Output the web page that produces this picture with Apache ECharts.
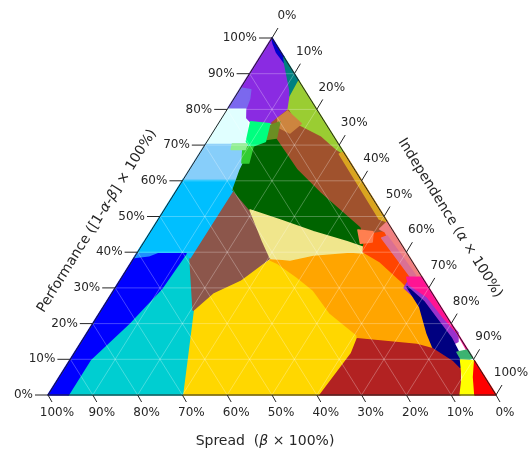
<!DOCTYPE html>
<html>
<head>
<meta charset="utf-8">
<script src="https://cdn.jsdelivr.net/npm/echarts@6/dist/echarts.min.js"></script>
<style>
  html, body { margin: 0; background: #fff; }
  #chart { width: 529px; height: 455px; }
</style>
</head>
<body>
<div id="chart"></div>
<script>
// region outlines, vertices as [performance %, independence %]
// (spread = 100 - performance - independence)
const firebrick = [[0, 60.3], [11.8, 61.5], [16.2, 60.9], [14.6, 75.1], [13.4, 79.2], [9.8, 85.5], [7.8, 88.1], [0, 92]];
const gold = [[0, 30], [0, 60.3], [11.8, 61.5], [16.8, 60.6], [23, 51.4], [29.4, 44.5], [33, 39.1], [37, 32.6], [37.8, 30.7], [32.2, 26.8], [28.6, 22.5], [23.8, 20.5], [9.8, 26.1]];
const orange = [[37.8, 30.7], [37.8, 35.1], [39.2, 39.6], [40.1, 47.4], [40.1, 50.3], [37.3, 55.5], [32.2, 62.5], [30.3, 65], [24.6, 70.7], [17.4, 75.9], [13.4, 79.2], [14.6, 75.1], [16.2, 60.9], [16.8, 60.6], [23, 51.4], [29.4, 44.5], [33, 39.1], [37, 32.6]];
const turquoise = [[0, 4.5], [0, 30], [9.8, 26.1], [23.8, 20.5], [38.4, 12.5], [40, 11], [30, 10.5], [20, 8], [10, 4.5]];
const blue = [[0, 0], [0, 4.5], [10, 4.5], [20, 8], [30, 10.5], [40, 11], [40, 0]];
const dodger = [[38.5, 0], [42.5, 0], [42, 3.5], [40, 4.5], [39, 3]];
const brown = [[57.4, 12.6], [51.8, 19.2], [43.4, 26.1], [38.4, 30.4], [32.2, 26.8], [28.6, 22.5], [23.8, 20.5], [38.4, 12.5]];
const deepsky = [[40, 0], [60.5, 0], [60.5, 11.8], [57.4, 12.6], [38.4, 12.5], [40, 11]];
const lightsky = [[60.5, 0], [70.6, 0], [70.6, 9.8], [68.6, 10], [65.8, 11.1], [63, 11.4], [60.5, 11.8]];
const lightcyan = [[70.6, 0], [80.5, 0], [80.5, 4.2], [77.6, 5.6], [74.5, 7.3], [70.6, 9.8]];
const purple = [[100, 0], [86, 0], [82.6, 3.1], [80.5, 4.2], [77.6, 5.6], [76.5, 7], [75.1, 9.2], [76.2, 11.9], [79.8, 13.7], [85.4, 11.3], [92.4, 6.7], [97.5, 1.5]];
const slateblue = [[86, 0], [80.5, 0], [80.5, 4], [83, 3.5], [85.5, 2.5]];
const mediumblue = [[100, 0], [94.7, 5.3], [93, 6.3], [96, 3], [98.5, 1]];
const teal = [[94.7, 5.3], [88, 12], [83.5, 12.3], [85.4, 11.3], [92.4, 6.7], [93, 6.3]];
const yellowgreen = [[88, 12], [66.5, 33.5], [68.6, 29.8], [72.3, 24.6], [75.6, 17.8], [79.8, 13.7], [83.5, 12.3]];
const sienna = [[79.8, 13.7], [75.6, 17.8], [72.3, 24.6], [68.6, 29.8], [66.5, 33.5], [48.5, 51.5], [45.6, 52.2], [45.4, 46.8], [56.6, 32.4], [63, 24.1], [72, 14.7], [76.2, 11.9]];
const goldenrod = [[68, 32], [48.5, 51.5], [49.3, 49.3], [67.5, 31.3]];
const peru = [[79.5, 13.7], [76, 18.5], [73.4, 17.3], [75, 14], [77.5, 12.5]];
const darkgreen = [[70.6, 10.9], [72, 14.7], [63, 24.1], [56.6, 32.4], [46.8, 46.2], [41.2, 50.2], [42.9, 45.3], [45.7, 36.4], [49, 27.3], [51.8, 19.2], [57.4, 12.6], [63, 11.4], [65.8, 11.1]];
const olivedrab = [[75, 11], [76.5, 13.5], [72, 15], [71.5, 12.5]];
const springgreen = [[76.5, 7], [76, 11.5], [71, 13], [69.5, 10.4], [71, 8.8]];
const limegreen = [[69.5, 8.8], [69.5, 11], [65, 12.3], [65, 10.8]];
const lightgreen = [[70.3, 6], [70.3, 9.3], [68.8, 9.6], [68.8, 6.5]];
const khaki = [[51.8, 19.2], [49, 27.3], [45.7, 36.4], [42.9, 45.3], [41.2, 50.2], [39.8, 50.4], [40.1, 47.4], [39.2, 39.6], [37.8, 35.1], [38.4, 30.4], [43.4, 26.1]];
const orangered = [[44.8, 48.4], [45.7, 52.4], [40.6, 57.2], [35, 63.3], [30.8, 67.6], [30.3, 65], [32.2, 62.5], [37.3, 55.5], [40.1, 50.3]];
const coral = [[46.2, 46.1], [45.7, 49.7], [42.9, 50.9], [42.5, 48.5]];
const lightcoral = [[48.5, 51.5], [33, 67], [31.5, 67], [35, 63.3], [40.6, 57.2], [45.7, 52.4], [46.5, 50.8]];
const palevioletred = [[44, 52.5], [33, 64.5], [33.5, 65.3], [44.5, 53.5]];
const darkorchid = [[31.5, 64.5], [27.5, 71.2], [21.8, 77.6], [17.4, 82.8], [15, 84], [14, 83], [20, 77], [26, 70], [30, 64.5]];
const navy = [[30.3, 65], [26, 71], [20.5, 77], [16, 82], [11.2, 86.4], [7.8, 88.1], [9.8, 85.5], [13.4, 79.2], [17.4, 75.9], [24.6, 70.7]];
const deeppink = [[33, 63.6], [33, 67], [10.6, 89.4], [12.6, 87.2], [17.4, 82.6], [21.8, 77.3], [27.5, 70.9], [31, 65]];
const seagreen = [[12, 85.3], [12.6, 87.4], [10.4, 89.6], [9.2, 88]];
const yellow = [[9.8, 87.2], [9.5, 90.5], [5, 92.5], [0, 95.3], [0, 92], [5, 90]];
const red = [[9.5, 90.5], [0, 100], [0, 95.3], [5, 92.5]];

// drawing order, later ones on top
const regionShapes = [firebrick, gold, orange, turquoise, blue, dodger, brown, deepsky, lightsky, lightcyan,
  purple, slateblue, mediumblue, teal, yellowgreen, sienna, goldenrod, peru, darkgreen, olivedrab,
  springgreen, limegreen, lightgreen, khaki, orangered, coral, lightcoral, palevioletred, darkorchid,
  navy, deeppink, seagreen, yellow, red];
const regionColors = ['#B22222', '#FFD700', '#FFA500', '#00CED1', '#0000FF', '#1E90FF', '#8C564B', '#00BFFF', '#87CEFA', '#E0FFFF',
  '#8A2BE2', '#7B68EE', '#0000CD', '#008080', '#9ACD32', '#A0522D', '#DAA520', '#CD853F', '#006400', '#6B8E23',
  '#00FF7F', '#32CD32', '#90EE90', '#F0E68C', '#FF4500', '#FF7F50', '#F08080', '#DB7093', '#9932CC',
  '#000080', '#FF1493', '#3CB371', '#FFFF00', '#FF0000'];

const gridSteps = [10, 20, 30, 40, 50, 60, 70, 80, 90];
const tickValues = [0, 10, 20, 30, 40, 50, 60, 70, 80, 90, 100];

const FONT = 'DejaVu Sans';
const INK = '#262626';

// [performance, independence] -> cartesian in the unit triangle
const toXY = v => [(v[1] + v[0] / 2) / 100, v[0] / 100];

const gridLines = [];
gridSteps.forEach(c => {
  gridLines.push([[c, 0], [c, 100 - c]]);       // constant performance
  gridLines.push([[0, c], [100 - c, c]]);       // constant independence
  gridLines.push([[0, 100 - c], [100 - c, 0]]); // constant spread
});

const chart = echarts.init(document.getElementById('chart'));

function textStyle(text, align, extra) {
  return Object.assign({
    text: text, fill: INK, fontSize: 12, fontFamily: FONT,
    align: align, textAlign: align, verticalAlign: 'middle', textVerticalAlign: 'middle'
  }, extra || {});
}

const italic = { i: { fontStyle: 'italic', fontSize: 14, fontFamily: FONT, fill: INK } };

const option = {
  animation: false,
  grid: { left: 48, right: 33, top: 38, bottom: 60 },
  xAxis: { type: 'value', min: 0, max: 1, show: false },
  yAxis: { type: 'value', min: 0, max: 1, show: false },
  series: [
    {
      type: 'custom',
      clip: false,
      data: regionShapes.map(() => [0, 0]),
      renderItem: (params, api) => {
        const c = regionColors[params.dataIndex];
        const pts = regionShapes[params.dataIndex].map(v => api.coord(toXY(v)));
        return { type: 'polygon', shape: { points: pts }, style: { fill: c, stroke: c, lineWidth: 1.6, lineJoin: 'round' } };
      }
    },
    {
      type: 'custom',
      clip: false,
      data: gridLines.map(() => [0, 0]),
      renderItem: (params, api) => {
        const seg = gridLines[params.dataIndex];
        const a = api.coord(toXY(seg[0]));
        const b = api.coord(toXY(seg[1]));
        return { type: 'line', shape: { x1: a[0], y1: a[1], x2: b[0], y2: b[1] },
          style: { stroke: 'rgba(255,255,255,0.35)', lineWidth: 0.8 } };
      }
    },
    {
      // triangle outline
      type: 'custom',
      clip: false,
      data: [[0, 0]],
      renderItem: (params, api) => {
        const pts = [[100, 0], [0, 0], [0, 100]].map(v => api.coord(toXY(v)));
        return { type: 'polygon', shape: { points: pts }, style: { fill: null, stroke: '#222', lineWidth: 1 } };
      }
    },
    {
      // performance axis (left)
      type: 'custom',
      clip: false,
      data: tickValues.map(() => [0, 0]),
      renderItem: (params, api) => {
        const v = tickValues[params.dataIndex];
        const p = api.coord(toXY([v, 0]));
        return { type: 'group', children: [
          { type: 'line', shape: { x1: p[0] - 13, y1: p[1], x2: p[0], y2: p[1] }, style: { stroke: INK, lineWidth: 1 } },
          { type: 'text', x: p[0] - 15, y: p[1], style: textStyle(v + '%', 'right') }
        ] };
      }
    },
    {
      // spread axis (bottom)
      type: 'custom',
      clip: false,
      data: tickValues.map(() => [0, 0]),
      renderItem: (params, api) => {
        const v = tickValues[params.dataIndex];
        const p = api.coord(toXY([0, 100 - v]));
        return { type: 'group', children: [
          { type: 'line', shape: { x1: p[0], y1: p[1], x2: p[0] + 4, y2: p[1] + 7 }, style: { stroke: INK, lineWidth: 1 } },
          { type: 'text', x: p[0] + 9, y: p[1] + 18, style: textStyle(v + '%', 'center') }
        ] };
      }
    },
    {
      // independence axis (right)
      type: 'custom',
      clip: false,
      data: tickValues.map(() => [0, 0]),
      renderItem: (params, api) => {
        const v = tickValues[params.dataIndex];
        const p = api.coord(toXY([100 - v, v]));
        return { type: 'group', children: [
          { type: 'line', shape: { x1: p[0], y1: p[1], x2: p[0] + 6, y2: p[1] - 10 }, style: { stroke: INK, lineWidth: 1 } },
          { type: 'text', x: p[0] + 15, y: p[1] - 22, style: textStyle(v + '%', 'center') }
        ] };
      }
    }
  ],
  graphic: [
    {
      type: 'text', x: 265, y: 441,
      style: textStyle('Spread  ({i|β} × 100%)', 'center', { fontSize: 14, rich: italic })
    },
    {
      type: 'text', x: 97, y: 221, rotation: 58 * Math.PI / 180,
      style: textStyle('Performance ([1-{i|α}-{i|β}] × 100%)', 'center', { fontSize: 14, rich: italic })
    },
    {
      type: 'text', x: 450, y: 218, rotation: -58 * Math.PI / 180,
      style: textStyle('Independence ({i|α} × 100%)', 'center', { fontSize: 14, rich: italic })
    }
  ]
};

chart.setOption(option);
</script>
</body>
</html>
